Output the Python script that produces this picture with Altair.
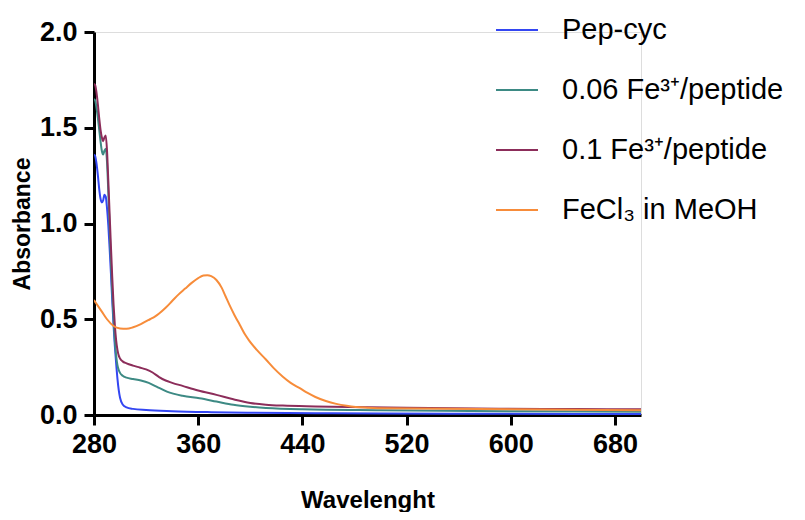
import altair as alt
import pandas as pd

series_names = ["Pep-cyc", "0.06 Fe³⁺/peptide", "0.1 Fe³⁺/peptide", "FeCl₃ in MeOH"]
colors = ["#3346f2", "#3d8a84", "#8c2d5a", "#f78c3a"]

pep_wl = [280, 281, 282, 283, 284, 285, 286, 287, 288, 289, 290, 291, 292, 293, 294, 295, 296, 297, 298, 299, 300, 302, 305, 310, 320, 340, 370, 400, 450, 500, 600, 700]
pep_abs = [1.36, 1.35, 1.31, 1.25, 1.18, 1.13, 1.11, 1.12, 1.15, 1.14, 1.08, 0.99, 0.87, 0.74, 0.60, 0.47, 0.36, 0.27, 0.19, 0.13, 0.09, 0.055, 0.04, 0.032, 0.026, 0.02, 0.015, 0.012, 0.009, 0.008, 0.006, 0.005]

fe006_wl = [280, 281, 282, 283, 284, 285, 286, 287, 288, 289, 290, 291, 292, 293, 294, 295, 296, 297, 298, 299, 300, 302, 305, 310, 316, 322, 328, 336, 348, 361, 374, 387, 400, 412, 440, 500, 600, 700]
fe006_abs = [1.65, 1.64, 1.60, 1.55, 1.49, 1.43, 1.38, 1.36, 1.38, 1.39, 1.32, 1.16, 0.98, 0.80, 0.64, 0.50, 0.39, 0.31, 0.26, 0.235, 0.22, 0.205, 0.195, 0.188, 0.18, 0.168, 0.148, 0.122, 0.10, 0.087, 0.07, 0.053, 0.043, 0.037, 0.03, 0.025, 0.02, 0.017]

fe01_wl = [280, 281, 282, 283, 284, 285, 286, 287, 288, 289, 290, 291, 292, 293, 294, 295, 296, 297, 298, 299, 300, 302, 305, 310, 315, 320, 325, 330, 335, 340, 348, 360, 374, 387, 400, 412, 425, 450, 476, 520, 591, 650, 700]
fe01_abs = [1.73, 1.72, 1.68, 1.62, 1.55, 1.49, 1.45, 1.43, 1.45, 1.46, 1.38, 1.22, 1.05, 0.88, 0.72, 0.58, 0.47, 0.39, 0.34, 0.31, 0.295, 0.28, 0.27, 0.258, 0.248, 0.238, 0.222, 0.198, 0.18, 0.168, 0.152, 0.128, 0.105, 0.082, 0.063, 0.054, 0.049, 0.045, 0.042, 0.038, 0.033, 0.031, 0.03]

fecl_wl = [280, 283, 286, 290, 295, 300, 305, 310, 316, 323, 327, 330, 335, 340, 345, 350, 355, 360, 364, 367, 370, 374, 378, 381, 384, 388, 392, 396, 399, 405, 412, 418, 425, 431, 438, 444, 450, 458, 466, 474, 481, 490, 500, 550, 600, 650, 700]
fecl_abs = [0.60, 0.57, 0.54, 0.50, 0.465, 0.452, 0.45, 0.458, 0.475, 0.50, 0.515, 0.53, 0.56, 0.595, 0.63, 0.66, 0.69, 0.715, 0.728, 0.73, 0.725, 0.705, 0.665, 0.62, 0.575, 0.52, 0.47, 0.42, 0.39, 0.34, 0.29, 0.245, 0.20, 0.168, 0.14, 0.115, 0.094, 0.073, 0.058, 0.048, 0.042, 0.038, 0.035, 0.032, 0.03, 0.027, 0.025]

x_ticks = [280, 360, 440, 520, 600, 680]
y_ticks = [0.0, 0.5, 1.0, 1.5, 2.0]

rows = []
for name, wl, ab in [
    (series_names[0], pep_wl, pep_abs),
    (series_names[1], fe006_wl, fe006_abs),
    (series_names[2], fe01_wl, fe01_abs),
    (series_names[3], fecl_wl, fecl_abs),
]:
    for w, a in zip(wl, ab):
        rows.append({"series": name, "wl": w, "abs": a})
df = pd.DataFrame(rows)

font = "Liberation Sans"

chart = (
    alt.Chart(df)
    .mark_line(strokeWidth=2, interpolate="monotone", clip=True)
    .encode(
        x=alt.X(
            "wl:Q",
            scale=alt.Scale(domain=[280, 700], nice=False, zero=False),
            axis=alt.Axis(
                values=x_ticks,
                title="Wavelenght",
                format="d",
                grid=False,
                labelFlush=False,
                labelFontSize=27,
                labelFontWeight="bold",
                labelPadding=6,
                titleFontSize=24,
                titleFontWeight="bold",
                titlePadding=31,
                domainWidth=3,
                tickWidth=3,
                tickSize=10,
                domainColor="black",
                tickColor="black",
                labelColor="black",
                titleColor="black",
                labelFont=font,
                titleFont=font,
            ),
        ),
        y=alt.Y(
            "abs:Q",
            scale=alt.Scale(domain=[0, 2], nice=False),
            axis=alt.Axis(
                values=y_ticks,
                title="Absorbance",
                format=".1f",
                grid=False,
                labelFlush=False,
                labelFontSize=27,
                labelFontWeight="bold",
                labelPadding=7,
                titleFontSize=23,
                titleFontWeight="bold",
                titlePadding=5,
                domainWidth=3,
                tickWidth=3,
                tickSize=10,
                domainColor="black",
                tickColor="black",
                labelColor="black",
                titleColor="black",
                labelFont=font,
                titleFont=font,
            ),
        ),
        color=alt.Color(
            "series:N",
            scale=alt.Scale(domain=series_names, range=colors),
            sort=series_names,
            legend=alt.Legend(
                title=None,
                orient="none",
                legendX=401,
                legendY=-24,
                symbolType="stroke",
                symbolSize=1764,
                symbolStrokeWidth=2,
                labelFontSize=29,
                labelFont=font,
                labelColor="black",
                labelOffset=23,
                rowPadding=23,
                labelLimit=400,
            ),
        ),
    )
    .properties(
        width=547,
        height=383,
        autosize=alt.AutoSizeParams(type="none"),
        padding={"left": 86, "top": 24, "right": 150, "bottom": 97},
    )
    .configure_view(stroke=None)
    .configure(background="white")
)

chart.save("out.html", embed_options={"renderer": "svg", "actions": False})
